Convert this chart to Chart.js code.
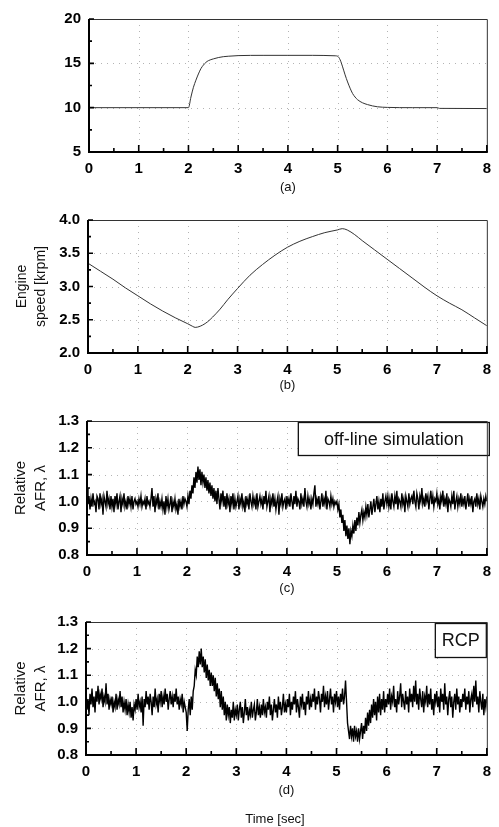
<!DOCTYPE html>
<html><head><meta charset="utf-8">
<script src="https://cdn.jsdelivr.net/npm/chart.js@4.4.1/dist/chart.umd.min.js"></script>
<style>
html,body{margin:0;padding:0;background:#fff;}
body{width:499px;height:827px;overflow:hidden;position:relative;}
canvas{position:absolute;left:0;}
</style>
</head><body>
<canvas id="pa"></canvas>
<canvas id="pb"></canvas>
<canvas id="pc"></canvas>
<canvas id="pd"></canvas>
<script>
// ---------- data ----------
const xTicks = [0, 1, 2, 3, 4, 5, 6, 7, 8];

// (a) input signal
const timeA = [0, 2.0, 2.05, 2.1, 2.15, 2.2, 2.25, 2.3, 2.35, 2.4, 2.5, 2.6, 2.7, 2.8, 3.0, 3.5, 4.0, 4.5, 4.95, 5.0, 5.05, 5.1, 5.15, 5.2, 5.25, 5.3, 5.35, 5.4, 5.5, 5.6, 5.7, 5.8, 6.0, 6.5, 7.0, 7.05, 8.0];
const valueA = [10, 10, 11.2, 12.3, 13.1, 13.8, 14.4, 14.8, 15.1, 15.3, 15.5, 15.65, 15.75, 15.8, 15.87, 15.9, 15.9, 15.9, 15.85, 15.8, 15.4, 14.6, 13.7, 12.9, 12.2, 11.6, 11.2, 10.9, 10.55, 10.35, 10.2, 10.1, 10.03, 10.0, 10.0, 9.92, 9.9];
const yTicksA = [5, 10, 15, 20];
const yMinorA = [7.5, 12.5, 17.5];

// (b) engine speed [krpm]
const timeB = [0, 0.25, 0.5, 0.75, 1.0, 1.25, 1.5, 1.75, 2.0, 2.1, 2.15, 2.2, 2.3, 2.4, 2.5, 2.65, 2.8, 3.0, 3.25, 3.5, 3.75, 4.0, 4.25, 4.5, 4.75, 5.0, 5.1, 5.2, 5.35, 5.5, 5.75, 6.0, 6.25, 6.5, 6.75, 7.0, 7.25, 7.5, 7.75, 8.0];
const speedB = [3.35, 3.23, 3.11, 2.98, 2.86, 2.74, 2.63, 2.53, 2.44, 2.40, 2.385, 2.39, 2.42, 2.47, 2.54, 2.66, 2.80, 2.97, 3.17, 3.33, 3.47, 3.59, 3.68, 3.75, 3.81, 3.85, 3.87, 3.85, 3.78, 3.69, 3.55, 3.41, 3.27, 3.13, 2.99, 2.86, 2.75, 2.65, 2.53, 2.41];
const yTicksB = [2.0, 2.5, 3.0, 3.5, 4.0];
const yMinorB = [2.25, 2.75, 3.25, 3.75];

// (c),(d) relative AFR, sampled every 0.02 s from 0 to 8 s
const sampleStep = 0.02;
const afrSim = [
1.05,0.99,1.02,0.97,1.01,0.98,1.03,0.99,1.00,0.96,1.02,1.01,0.97,1.03,0.99,1.01,0.95,1.02,1.00,0.98,1.04,0.99,1.01,0.97,1.02,
0.98,1.01,0.96,1.02,0.99,1.03,0.97,1.00,1.02,0.96,1.01,0.99,1.03,0.98,1.00,0.97,1.02,0.99,1.01,0.98,1.02,0.97,1.00,1.01,0.99,
1.00,0.98,1.01,0.99,1.02,0.98,1.00,0.99,1.01,0.97,1.02,0.99,1.00,0.98,1.01,1.05,0.98,1.02,0.96,1.01,0.99,1.03,0.97,1.00,0.98,
1.01,0.97,1.00,0.95,1.02,0.98,1.01,0.97,0.99,1.02,0.96,1.00,0.98,1.01,0.97,0.99,0.95,1.01,0.98,1.00,0.97,1.02,0.99,1.01,1.00,
0.98,1.02,0.99,1.04,1.01,1.06,1.03,1.09,1.05,1.11,1.07,1.13,1.08,1.12,1.06,1.11,1.07,1.10,1.05,1.09,1.04,1.08,1.03,1.07,1.02,
1.06,1.01,1.05,1.00,1.04,0.99,1.05,1.01,0.97,1.03,1.00,1.04,0.98,1.02,0.97,1.03,0.99,1.01,0.96,1.02,0.99,1.03,0.97,1.01,0.98,
1.00,1.02,0.97,1.01,0.99,1.03,0.98,1.00,0.96,1.02,0.99,1.01,0.97,1.03,1.00,0.98,1.02,0.99,1.01,0.97,1.03,0.98,1.00,1.02,0.99,
1.01,0.97,1.02,0.99,1.04,0.98,1.00,1.02,0.96,1.01,0.99,1.03,0.98,1.01,0.97,1.00,1.02,0.95,1.01,0.99,1.03,0.98,1.00,1.01,0.97,
1.02,0.99,1.01,0.98,1.03,1.00,0.97,1.02,0.99,1.04,0.98,1.01,1.00,0.97,1.03,0.99,1.01,0.98,1.05,1.00,0.98,1.02,0.99,1.01,0.97,
1.01,0.99,1.03,1.06,0.98,1.01,0.99,1.02,0.97,1.00,1.03,0.98,1.01,0.99,1.04,0.97,1.01,1.00,0.98,1.02,0.99,1.01,0.98,1.00,0.99,
1.00,0.97,0.99,0.94,0.97,0.92,0.95,0.89,0.93,0.87,0.91,0.86,0.90,0.84,0.89,0.87,0.91,0.88,0.93,0.89,0.94,0.91,0.96,0.92,0.95,
0.97,0.93,0.96,0.94,0.98,0.95,0.99,0.94,0.97,1.00,0.95,0.98,1.01,0.96,0.99,1.02,0.97,1.00,0.96,1.01,0.98,1.03,0.97,1.00,1.02,
0.99,1.02,0.98,1.01,0.97,1.03,1.00,0.98,1.02,0.99,1.04,0.97,1.01,1.00,0.98,1.03,0.99,1.01,0.96,1.02,1.00,0.98,1.03,0.99,1.01,
1.02,0.99,1.04,1.00,0.98,1.03,1.01,0.97,1.02,1.00,1.05,0.99,1.01,0.98,1.03,1.00,1.02,0.97,1.01,1.04,0.99,1.02,0.98,1.01,1.00,
1.03,0.99,1.01,0.97,1.02,1.00,1.04,0.98,1.01,0.99,1.03,0.96,1.01,1.00,0.98,1.02,0.99,1.04,0.97,1.00,1.02,0.98,1.01,0.99,1.03,
0.98,1.01,0.99,1.02,0.97,1.00,1.03,0.98,1.01,0.99,1.02,0.96,1.00,1.01,0.98,1.03,0.99,1.01,0.97,1.02,1.00,0.98,1.01,0.99,1.02,
1.00];
const afrRcp = [
1.04,0.97,1.01,0.95,1.03,0.99,1.05,0.98,1.02,0.96,1.04,1.00,1.06,0.99,1.03,1.01,1.05,0.98,1.02,1.00,1.07,0.99,1.03,0.97,1.01,
0.99,1.02,0.96,1.00,0.98,1.03,0.97,1.01,0.99,1.04,0.98,1.02,0.96,1.00,0.97,1.01,0.95,0.99,0.96,1.00,0.94,0.98,0.93,0.99,0.97,
1.01,0.97,1.03,0.98,1.00,0.96,1.02,0.91,1.01,0.98,1.04,0.99,1.02,0.97,1.03,1.00,0.95,1.02,0.98,1.05,0.99,1.01,0.96,1.03,1.00,
1.04,0.98,1.02,0.99,1.05,1.00,1.03,0.97,1.01,1.04,0.99,1.02,0.98,1.03,1.00,1.05,0.99,1.02,0.97,1.01,0.99,1.03,0.96,1.00,0.98,
0.96,0.89,0.97,1.01,0.95,1.02,0.97,1.04,1.06,1.12,1.10,1.17,1.13,1.19,1.14,1.20,1.13,1.17,1.11,1.16,1.09,1.14,1.08,1.12,1.06,
1.11,1.06,1.10,1.04,1.09,1.02,1.07,1.01,1.05,0.98,1.04,0.97,1.02,0.95,1.00,0.93,0.99,0.95,0.98,0.92,0.97,0.94,1.00,0.93,0.97,
0.95,0.99,0.93,0.97,1.00,0.94,0.98,0.92,0.96,1.01,0.95,0.98,0.93,0.97,0.95,1.00,0.94,0.97,0.99,0.93,0.96,1.01,0.95,0.98,0.94,
0.99,0.95,1.01,0.96,0.98,0.94,1.00,0.97,1.02,0.95,0.99,0.93,0.97,1.01,0.96,0.99,0.94,1.02,0.97,1.00,0.95,0.98,1.03,0.96,0.99,
0.96,1.01,0.98,1.03,0.95,1.00,0.97,1.02,0.99,1.04,0.96,1.01,0.98,0.94,1.02,0.99,1.03,0.97,1.00,0.95,1.02,0.99,1.04,0.97,1.01,
0.98,1.03,1.00,1.05,0.97,1.02,0.99,1.04,1.01,0.96,1.03,1.00,1.06,0.98,1.02,0.99,1.04,0.97,1.01,1.05,0.99,1.02,0.96,1.03,1.00,
1.04,0.98,1.02,0.97,1.03,1.00,1.05,0.99,1.02,1.08,1.00,0.92,0.89,0.86,0.91,0.87,0.90,0.85,0.91,0.87,0.89,0.85,0.90,0.86,0.89,
0.92,0.86,0.91,0.88,0.94,0.89,0.96,0.91,0.97,0.92,0.99,0.94,1.01,0.95,1.00,0.93,1.02,0.96,1.03,0.95,1.01,0.97,1.04,0.96,1.01,
0.98,1.03,0.99,1.05,0.97,1.02,1.00,1.06,0.98,1.01,0.96,1.04,0.99,1.02,1.07,0.98,1.03,1.00,0.97,1.04,0.99,1.02,0.96,1.05,1.00,
1.03,0.98,1.06,1.00,1.08,0.99,1.03,0.97,1.05,1.01,0.98,1.04,0.96,1.02,1.00,1.06,0.98,1.03,0.99,1.05,0.97,1.01,0.95,1.03,1.00,
1.04,0.98,1.02,0.96,1.05,1.00,1.03,0.97,1.07,0.99,1.02,0.95,1.01,1.04,0.98,1.02,0.94,1.00,1.03,0.97,1.05,0.99,1.02,0.96,1.01,
0.98,1.03,1.00,1.05,0.97,1.02,0.99,1.04,0.96,1.01,1.03,0.98,1.06,1.00,1.08,0.99,1.02,0.96,1.04,1.00,0.97,1.03,0.95,1.01,0.98,
1.02];
const yTicksCD = [0.8, 0.9, 1.0, 1.1, 1.2, 1.3];
const yMinorCD = [0.85, 0.95, 1.05, 1.15, 1.25];

// ---------- drawing ----------
const FONT = '"Liberation Sans", Arial, Helvetica, sans-serif';
const INK = '#111';

const framePlugin = {
  id: 'frame',
  beforeDatasetsDraw(chart, args, o) {
    const {ctx, chartArea: a, scales: {x, y}} = chart;
    ctx.save();
    ctx.strokeStyle = '#b4b4b4';
    ctx.lineWidth = 1;
    ctx.setLineDash([1, 5]);
    ctx.beginPath();
    for (const v of xTicks) {
      if (v <= x.min || v >= x.max) continue;
      const px = Math.round(x.getPixelForValue(v)) + 0.5;
      ctx.moveTo(px, a.top); ctx.lineTo(px, a.bottom);
    }
    for (const t of y.ticks) {
      if (t.value <= y.min || t.value >= y.max) continue;
      const py = Math.round(y.getPixelForValue(t.value)) + 0.5;
      ctx.moveTo(a.left, py); ctx.lineTo(a.right, py);
    }
    ctx.stroke();
    ctx.restore();
  },
  afterDatasetsDraw(chart, args, o) {
    const {ctx, chartArea: a, scales: {x, y}} = chart;
    ctx.save();
    // annotation box
    if (o.box) {
      const b = o.box;
      const bx = a.right + b.dx - b.w, by = a.top + b.dy;
      ctx.fillStyle = '#fff';
      ctx.fillRect(bx, by, b.w, b.h);
      ctx.strokeStyle = '#111'; ctx.lineWidth = 1.3;
      ctx.strokeRect(bx + 0.5, by + 0.5, b.w - 1, b.h - 1);
      ctx.fillStyle = INK;
      ctx.font = '18px ' + FONT;
      ctx.textAlign = 'center'; ctx.textBaseline = 'middle';
      ctx.fillText(b.text, bx + b.w / 2, by + b.h / 2 + 1);
    }
    // thin top / right border
    ctx.strokeStyle = '#333'; ctx.lineWidth = 1;
    ctx.beginPath();
    ctx.moveTo(a.left, a.top + 0.5); ctx.lineTo(a.right + 0.5, a.top + 0.5); ctx.lineTo(a.right + 0.5, a.bottom);
    ctx.stroke();
    // thick left / bottom axes
    ctx.strokeStyle = '#000'; ctx.lineWidth = 2;
    ctx.beginPath();
    ctx.moveTo(a.left, a.top); ctx.lineTo(a.left, a.bottom); ctx.lineTo(a.right + 1, a.bottom);
    ctx.stroke();
    // inward ticks
    ctx.lineWidth = 1.6;
    ctx.beginPath();
    for (let i = 0; i <= 16; i++) {
      const v = i / 2;
      const px = x.getPixelForValue(v);
      const L = (i % 2 === 0) ? 7 : 4;
      ctx.moveTo(px, a.bottom); ctx.lineTo(px, a.bottom - L);
    }
    for (const t of y.ticks) {
      const py = y.getPixelForValue(t.value);
      ctx.moveTo(a.left, py); ctx.lineTo(a.left + 5, py);
    }
    for (const v of o.yMinor) {
      const py = y.getPixelForValue(v);
      ctx.moveTo(a.left, py); ctx.lineTo(a.left + 3, py);
    }
    ctx.stroke();
    // footer text
    if (o.footer) {
      ctx.fillStyle = INK;
      ctx.font = '13px ' + FONT;
      ctx.textAlign = 'center'; ctx.textBaseline = 'middle';
      ctx.fillText(o.footer.text, o.footer.x, o.footer.y);
    }
    ctx.restore();
  }
};

function panel(id, canvasTop, canvasH, cfg) {
  const cv = document.getElementById(id);
  cv.width = 499; cv.height = canvasH;
  cv.style.top = canvasTop + 'px';
  cv.style.width = '499px'; cv.style.height = canvasH + 'px';
  const A = cfg.area;
  return new Chart(cv, {
    type: 'line',
    data: {
      datasets: [{
        data: cfg.points,
        borderColor: cfg.color,
        borderWidth: cfg.lineWidth,
        pointRadius: 0,
        fill: false,
        tension: 0,
        cubicInterpolationMode: cfg.smooth ? 'monotone' : 'default'
      }]
    },
    options: {
      responsive: false,
      animation: false,
      devicePixelRatio: 1,
      events: [],
      layout: { padding: { top: A.top - canvasTop, right: 499 - A.right, left: 0, bottom: 0 } },
      plugins: {
        legend: { display: false },
        tooltip: { enabled: false },
        frame: { yMinor: cfg.yMinor, box: cfg.box || null, footer: cfg.footer || null }
      },
      scales: {
        x: {
          type: 'linear', min: 0, max: 8,
          afterBuildTicks: s => { s.ticks = xTicks.map(v => ({ value: v })); },
          afterFit: s => { s.height = canvasH - (A.bottom - canvasTop); },
          grid: { display: false, drawTicks: false },
          border: { display: false },
          ticks: { color: '#000', font: { family: FONT, size: 15, weight: 'bold' }, padding: 8, maxRotation: 0, autoSkip: false, callback: v => String(v) },
          title: { display: true, text: cfg.caption, color: INK, font: { family: FONT, size: 13, lineHeight: 1.2 }, padding: { top: 0, bottom: cfg.capPad } }
        },
        y: {
          type: 'linear', min: cfg.yMin, max: cfg.yMax,
          afterBuildTicks: s => { s.ticks = cfg.yTicks.map(v => ({ value: v })); },
          afterFit: s => { s.width = A.left; },
          grid: { display: false, drawTicks: false },
          border: { display: false },
          ticks: { color: '#000', font: { family: FONT, size: 15, weight: 'bold' }, padding: 8, autoSkip: false, callback: cfg.yFmt },
          title: cfg.yTitle ? { display: true, text: cfg.yTitle, color: INK, font: { family: FONT, size: cfg.yTitleSize, lineHeight: cfg.yTitleLH }, padding: { top: cfg.yTitlePad, bottom: 0 } } : { display: false }
        }
      }
    },
    plugins: [framePlugin]
  });
}

const ptsA = timeA.map((t, i) => ({ x: t, y: valueA[i] }));
const ptsB = timeB.map((t, i) => ({ x: t, y: speedB[i] }));
const ptsC = afrSim.map((v, i) => ({ x: +(i * sampleStep).toFixed(2), y: v }));
const ptsD = afrRcp.map((v, i) => ({ x: +(i * sampleStep).toFixed(2), y: v }));

panel('pa', 0, 200, {
  area: { left: 89, right: 491, top: 19, bottom: 152 },
  points: ptsA, color: '#333', lineWidth: 1, smooth: true,
  yMin: 5, yMax: 20, yTicks: yTicksA, yMinor: yMinorA, yFmt: v => String(v),
  caption: '(a)', capPad: 5
});
panel('pb', 200, 200, {
  area: { left: 88, right: 489, top: 220, bottom: 353 },
  points: ptsB, color: '#333', lineWidth: 1, smooth: true,
  yMin: 2.0, yMax: 4.0, yTicks: yTicksB, yMinor: yMinorB, yFmt: v => Number(v).toFixed(1),
  yTitle: ['Engine', 'speed [krpm]'], yTitleSize: 14, yTitleLH: 1.36, yTitlePad: 12.5,
  caption: '(b)', capPad: 7
});
panel('pc', 400, 205, {
  area: { left: 87, right: 488, top: 421, bottom: 555 },
  points: ptsC, color: '#000', lineWidth: 1.4, smooth: false,
  yMin: 0.8, yMax: 1.3, yTicks: yTicksCD, yMinor: yMinorCD, yFmt: v => Number(v).toFixed(1),
  yTitle: ['Relative', 'AFR, λ'], yTitleSize: 15, yTitleLH: 1.33, yTitlePad: 11,
  caption: '(c)', capPad: 9,
  box: { text: 'off-line simulation', w: 192, h: 34, dx: 3, dy: 1 }
});
panel('pd', 605, 222, {
  area: { left: 86, right: 487, top: 622, bottom: 755 },
  points: ptsD, color: '#000', lineWidth: 1.4, smooth: false,
  yMin: 0.8, yMax: 1.3, yTicks: yTicksCD, yMinor: yMinorCD, yFmt: v => Number(v).toFixed(1),
  yTitle: ['Relative', 'AFR, λ'], yTitleSize: 15, yTitleLH: 1.33, yTitlePad: 11,
  caption: '(d)', capPad: 29,
  box: { text: 'RCP', w: 52, h: 35, dx: 0, dy: 1 },
  footer: { text: 'Time [sec]', x: 275, y: 214 }
});
</script>
</body></html>
